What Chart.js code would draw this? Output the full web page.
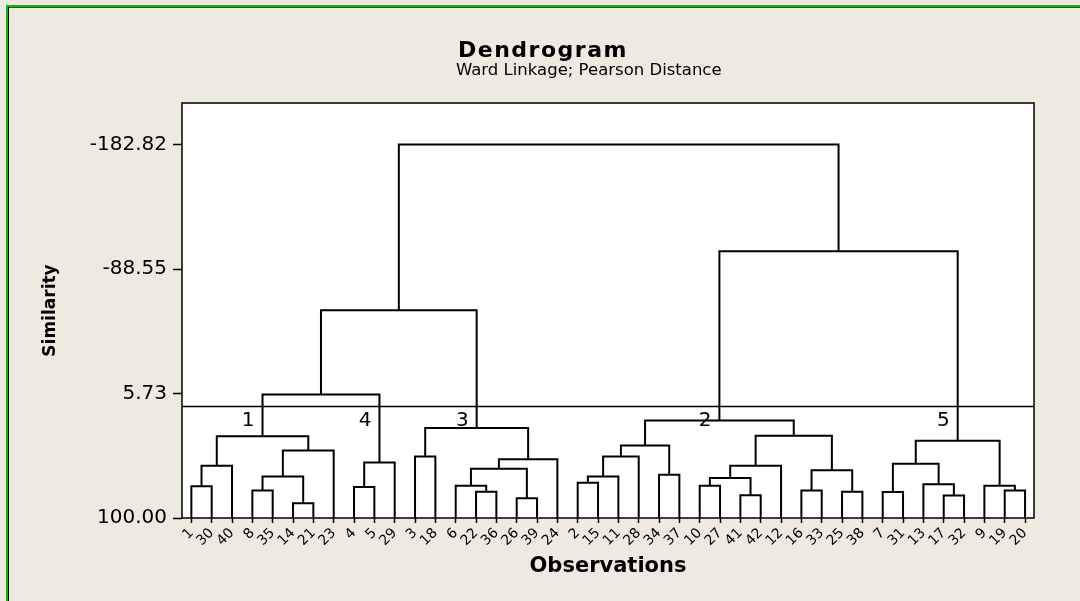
<!DOCTYPE html>
<html>
<head>
<meta charset="utf-8">
<script src="https://cdn.jsdelivr.net/npm/chart.js@4.4.0/dist/chart.umd.min.js"></script>
<style>
  body { margin: 0; background: #eeeae0; }
  #wrap { width: 1080px; height: 601px; }
</style>
</head>
<body>
<div id="wrap"><canvas id="dendro" width="1080" height="601"></canvas></div>
<script>
// leaf order along the x axis
const leafLabels = ["1","30","40","8","35","14","21","23","4","5","29","3","18","6","22","36","26","39","24",
    "2","15","11","28","34","37","10","27","41","42","12","16","33","25","38","7","31","13","17","32","9","19","20"];

// linkage: ids < 42 are leaves (position in leafLabels), id 42+k is merge k
const linkLeft  = [0, 42, 3, 5, 44, 46, 43, 8, 49, 48, 11, 14, 13, 16, 54, 56, 52, 51,
    19, 60, 61, 23, 62, 25, 27, 65, 67, 30, 32, 69, 68, 64, 34, 37, 36, 74, 40, 39, 77, 73, 59];
const linkRight = [1, 2, 4, 6, 45, 7, 47, 9, 10, 50, 12, 15, 53, 17, 55, 18, 57, 58,
    20, 21, 22, 24, 63, 26, 28, 66, 29, 31, 33, 70, 71, 72, 35, 38, 75, 76, 41, 78, 79, 80, 81];
const linkHeight = [75.9, 60.4, 79.1, 88.8, 68.5, 48.8, 38.0, 76.6, 57.9, 6.4, 53.4, 80.1, 75.6, 85.0, 62.7, 55.6, 31.9, -57.3,
    73.3, 68.5, 53.4, 67.2, 45.0, 75.6, 82.7, 69.8, 60.4, 79.1, 80.1, 63.8, 37.7, 26.1, 80.4, 82.9, 74.4, 58.9, 79.1, 75.6, 41.5, -102.1, -182.82];

const tickValues = [-182.82, -88.55, 5.73, 100.00];
const cutHeight = 15.5;
const clusterNodes = [48, 50, 58, 73, 80];
const clusterNames = ["1", "4", "3", "2", "5"];

const nodeX = leafLabels.map((_, i) => i);
const nodeH = leafLabels.map(() => 100);
const datasets = [];

linkLeft.forEach((a, k) => {
    const b = linkRight[k];
    const h = linkHeight[k];
    nodeX.push((nodeX[a] + nodeX[b]) / 2);
    nodeH.push(h);
    datasets.push({
        data: [
            { x: nodeX[a], y: nodeH[a] },
            { x: nodeX[a], y: h },
            { x: nodeX[b], y: h },
            { x: nodeX[b], y: nodeH[b] }
        ],
        showLine: true,
        borderColor: '#000',
        borderWidth: 2,
        pointRadius: 0
    });
});

const xMin = -0.46, xMax = 41.44;

// horizontal cut line
datasets.push({
    data: [{ x: xMin, y: cutHeight }, { x: xMax, y: cutHeight }],
    showLine: true,
    borderColor: '#000',
    borderWidth: 1.5,
    pointRadius: 0
});

const FONT = "'DejaVu Sans', Verdana, sans-serif";

const decor = {
    id: 'decor',
    beforeDraw(chart) {
        const ctx = chart.ctx;
        const a = chart.chartArea;
        ctx.save();
        ctx.fillStyle = '#eeeae0';
        ctx.fillRect(0, 0, chart.width, chart.height);
        // outer frame
        ctx.fillStyle = '#00c000';
        ctx.fillRect(6, 5, chart.width - 6, 2);
        ctx.fillRect(6, 5, 2, chart.height - 5);
        ctx.fillStyle = '#444';
        ctx.fillRect(8, 7, chart.width - 8, 1);
        ctx.fillStyle = '#000';
        ctx.fillRect(8, 7, 1, chart.height - 7);
        ctx.fillStyle = '#fff';
        ctx.fillRect(a.left, a.top, a.right - a.left, a.bottom - a.top);
        ctx.restore();
    },
    afterDraw(chart) {
        const ctx = chart.ctx;
        const a = chart.chartArea;
        const xs = chart.scales.x, ys = chart.scales.y;
        ctx.save();
        ctx.strokeStyle = '#000';
        ctx.lineWidth = 1.5;
        ctx.strokeRect(a.left, a.top, a.right - a.left, a.bottom - a.top);

        ctx.fillStyle = '#000';
        ctx.textAlign = 'left';
        ctx.textBaseline = 'alphabetic';
        ctx.font = "bold 22px " + FONT;
        ctx.letterSpacing = '1.5px';
        ctx.fillText('Dendrogram', 458, 57);
        ctx.letterSpacing = '0px';
        ctx.font = "16.5px " + FONT;
        ctx.fillText('Ward Linkage; Pearson Distance', 456, 75);

        // cluster numbers under the cut line
        ctx.font = "20px " + FONT;
        ctx.textAlign = 'right';
        const cy = ys.getPixelForValue(cutHeight);
        clusterNodes.forEach((id, i) => {
            ctx.fillText(clusterNames[i], xs.getPixelForValue(nodeX[id]) - 8, cy + 20);
        });
        ctx.restore();
    }
};

new Chart(document.getElementById('dendro'), {
    type: 'scatter',
    data: { datasets: datasets },
    options: {
        responsive: false,
        animation: false,
        events: [],
        layout: { padding: { left: 10, top: 103, right: 46, bottom: 0 } },
        plugins: { legend: { display: false }, tooltip: { enabled: false } },
        scales: {
            x: {
                type: 'linear',
                min: xMin,
                max: xMax,
                afterBuildTicks: s => { s.ticks = leafLabels.map((_, i) => ({ value: i })); },
                afterFit: s => { s.height = 83; },
                ticks: {
                    callback: v => leafLabels[v],
                    autoSkip: false,
                    minRotation: 45,
                    maxRotation: 45,
                    padding: 2,
                    color: '#000',
                    font: { family: FONT, size: 14 }
                },
                grid: { drawOnChartArea: false, drawTicks: true, tickLength: 5, color: '#000', tickColor: '#000', tickWidth: 1.5 },
                border: { display: false },
                title: {
                    display: true,
                    text: 'Observations',
                    color: '#000',
                    font: { family: FONT, size: 21, weight: 'bold' },
                    padding: { top: 0, bottom: 22 }
                }
            },
            y: {
                type: 'linear',
                reverse: true,
                min: -214.3,
                max: 100,
                afterBuildTicks: s => { s.ticks = tickValues.map(v => ({ value: v })); },
                afterFit: s => { s.width = 172; },
                ticks: {
                    callback: v => v.toFixed(2),
                    padding: 6,
                    color: '#000',
                    font: { family: FONT, size: 20 }
                },
                grid: { drawOnChartArea: false, drawTicks: true, tickLength: 9, color: '#000', tickColor: '#000', tickWidth: 1.5 },
                border: { display: false },
                title: {
                    display: true,
                    text: 'Similarity',
                    color: '#000',
                    font: { family: FONT, size: 17, weight: 'bold' },
                    padding: { top: 30, bottom: 0 }
                }
            }
        }
    },
    plugins: [decor]
});
</script>
</body>
</html>
